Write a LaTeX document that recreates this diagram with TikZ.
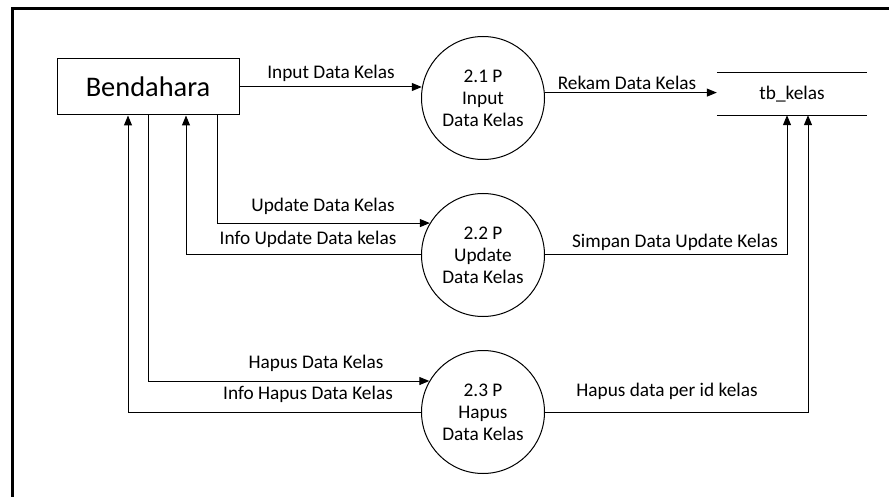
\documentclass[tikz,border=0pt]{standalone}
\usepackage{fontspec}
\setmainfont{Carlito}
\usetikzlibrary{arrows.meta}
\begin{document}
\begin{tikzpicture}[x=1pt,y=-1pt,
  every node/.style={font=\fontsize{19.3}{22}\selectfont},
  proc/.style={draw,circle,line width=1pt,minimum size=123pt,inner sep=0pt,align=center},
  ent/.style={draw,rectangle,line width=1pt,minimum width=182pt,minimum height=56pt,font=\fontsize{28.4}{32}\selectfont},
  flow/.style={line width=1pt,-{Triangle[length=10pt,width=8pt]}},
  lbl/.style={inner sep=0pt}]
\useasboundingbox (0,0) rectangle (889,497);
\draw[line width=3pt] (12.5,497) -- (12.5,8.5) -- (889,8.5);

\node[ent] (bend) at (148,87) {Bendahara};
\node[proc] (p1) at (483,98) {2.1 P\\Input\\Data Kelas};
\node[proc] (p2) at (483,255) {2.2 P\\Update\\Data Kelas};
\node[proc] (p3) at (483,412) {2.3 P\\Hapus\\Data Kelas};
\node[minimum width=150pt,minimum height=42pt,inner sep=0pt] (tb) at (792,94) {tb\_kelas};
\draw[line width=1pt] (tb.north west) -- (tb.north east);
\draw[line width=1pt] (tb.south west) -- (tb.south east);

\draw[flow] (bend.east) -- (bend.east -| p1.171);
\draw[flow] (p1.5) -- (p1.5 -| tb.west);
\draw[flow] ([xshift=-22pt]bend.south east) |- (p2.149);
\draw[flow] (p2.west) -| ([xshift=38pt]bend.south);
\draw[flow] (p2.east) -| ([xshift=-5pt]tb.south);
\draw[flow] (bend.south) |- (p3.150);
\draw[flow] (p3.west) -| ([xshift=-20pt]bend.south);
\draw[flow] (p3.east) -| ([xshift=16pt]tb.south);

\node[lbl] (l1) at (331,73) {Input Data Kelas};
\node[lbl] (l2) at (627,83) {Rekam Data Kelas};
\node[lbl] (l3) at (323,206) {Update Data Kelas};
\node[lbl] (l4) at (308,239) {Info Update Data kelas};
\node[lbl] (l5) at (675,242) {Simpan Data Update Kelas};
\node[lbl] (l6) at (316,363) {Hapus Data Kelas};
\node[lbl] (l7) at (308,394) {Info Hapus Data Kelas};
\node[lbl] (l8) at (667,391) {Hapus data per id kelas};
\end{tikzpicture}
\end{document}
